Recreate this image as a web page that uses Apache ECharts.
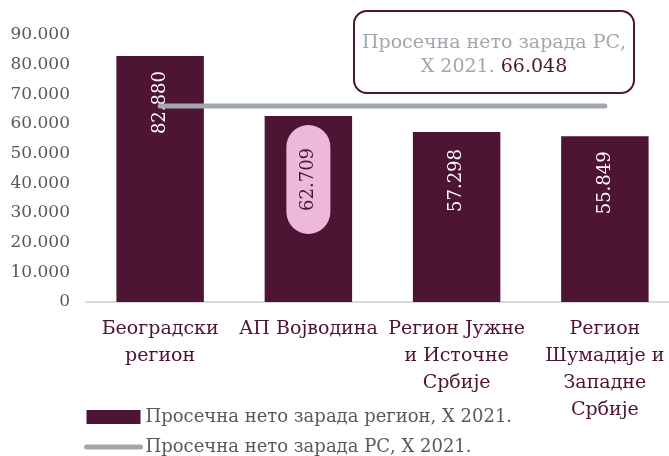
<!DOCTYPE html>
<html>
<head>
<meta charset="utf-8">
<title>Просечна нето зарада</title>
<script src="https://cdn.jsdelivr.net/npm/echarts@6/dist/echarts.min.js"></script>
<style>
    html, body { margin: 0; padding: 0; background: #fff; }
    #chart { width: 669px; height: 456px; }
</style>
</head>
<body>
<div id="chart"></div>
<script type="text/javascript">

    // podaci
    var regions = ['Београдски\nрегион', 'АП Војводина', 'Регион Јужне\nи Источне\nСрбије', 'Регион\nШумадије и\nЗападне\nСрбије'];
    var regionWage = [82880, 62709, 57298, 55849];
    var rsWage = [66048, 66048, 66048, 66048];
    var rsValue = 66048;
    var yTicks = [0, 90000, 10000]; // min, max, interval

    var seriesBar = 'Просечна нето зарада регион, X 2021.';
    var seriesLine = 'Просечна нето зарада РС, X 2021.';

    var FONT = 'DejaVu Serif';
    var MAROON = '#4e1433';
    var GRAY = '#a0a7ae';

    function fmt(v) {
        return String(v).replace(/\B(?=(\d{3})+(?!\d))/g, '.');
    }

    // rastojanje labele od vrha stuba
    var labelDist = [15, 9, 17, 15];

    var barData = regionWage.map(function (v, i) {
        var item = { value: v, label: { distance: labelDist[i] } };
        if (i === 1) {
            item.label.color = MAROON;
            item.label.backgroundColor = '#ecb9d9';
            item.label.borderRadius = 23;
            item.label.padding = [13, 23];
        }
        return item;
    });

    var chart = echarts.init(document.getElementById('chart'));

    var option = {
        animation: false,
        textStyle: { fontFamily: FONT },
        grid: {
            left: 86,
            right: -10,
            top: 35,
            bottom: 154,
            outerBoundsMode: 'none'
        },
        legend: {
            orient: 'vertical',
            left: 84,
            top: 408,
            padding: 0,
            itemWidth: 54,
            itemHeight: 14,
            itemGap: 12,
            textStyle: { fontFamily: FONT, fontSize: 18, color: '#595959' },
            data: [
                { name: seriesBar, icon: 'rect' },
                {
                    name: seriesLine,
                    itemStyle: { opacity: 0 },
                    lineStyle: { color: GRAY, width: 5, cap: 'round' }
                }
            ]
        },
        xAxis: {
            type: 'category',
            data: regions,
            axisLine: { lineStyle: { color: '#d9d9d9', width: 2 } },
            axisTick: { show: false },
            axisLabel: {
                color: MAROON,
                fontFamily: FONT,
                fontSize: 19,
                lineHeight: 27,
                margin: 14,
                interval: 0
            }
        },
        yAxis: {
            type: 'value',
            min: yTicks[0],
            max: yTicks[1],
            interval: yTicks[2],
            splitLine: { show: false },
            axisLine: { show: false },
            axisTick: { show: false },
            axisLabel: {
                color: '#595959',
                fontFamily: FONT,
                fontSize: 17,
                margin: 16,
                formatter: fmt
            }
        },
        series: [
            {
                name: seriesBar,
                type: 'bar',
                data: barData,
                barWidth: '59%',
                itemStyle: { color: MAROON },
                label: {
                    show: true,
                    position: 'insideTop',
                    rotate: 90,
                    align: 'right',
                    verticalAlign: 'middle',
                    color: '#ffffff',
                    fontFamily: FONT,
                    fontSize: 18,
                    formatter: function (p) { return fmt(p.value); }
                },
                z: 2
            },
            {
                name: seriesLine,
                type: 'line',
                data: rsWage,
                symbol: 'none',
                lineStyle: { color: GRAY, width: 5, cap: 'round' },
                itemStyle: { color: GRAY },
                z: 3
            }
        ],
        graphic: [
            {
                type: 'group',
                left: 353,
                top: 10,
                children: [
                    {
                        type: 'rect',
                        shape: { x: 0, y: 0, width: 280, height: 82, r: 13 },
                        style: { fill: '#fff', stroke: MAROON, lineWidth: 2 }
                    },
                    {
                        type: 'text',
                        x: 140,
                        y: 44,
                        style: {
                            text: '{g|Просечна нето зарада РС,}\n{g|X 2021. }{v|' + fmt(rsValue) + '}',
                            align: 'center',
                            verticalAlign: 'middle',
                            rich: {
                                g: { fontFamily: FONT, fontSize: 19, fill: GRAY, lineHeight: 24 },
                                v: { fontFamily: FONT, fontSize: 19, fill: MAROON, lineHeight: 24 }
                            }
                        }
                    }
                ]
            }
        ]
    };

    chart.setOption(option);
    window.onresize = chart.resize;

</script>
</body>
</html>
